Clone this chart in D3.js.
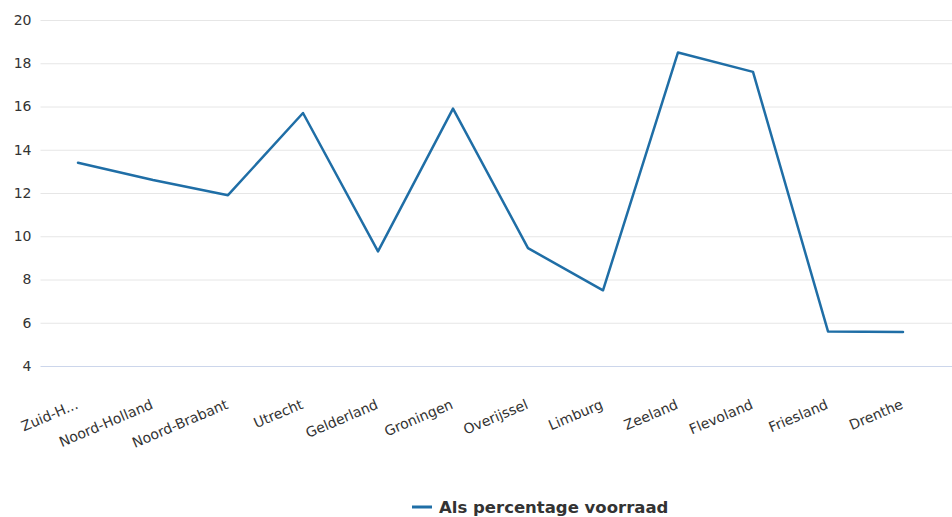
<!DOCTYPE html>
<html><head><meta charset="utf-8">
<script src="https://cdn.jsdelivr.net/npm/d3@7"></script>
<style>html,body{margin:0;padding:0;background:#fff;overflow:hidden}</style>
</head><body>
<svg id="chart" width="952" height="517"></svg>
<script>
const categories = ["Zuid-H...","Noord-Holland","Noord-Brabant","Utrecht","Gelderland","Groningen","Overijssel","Limburg","Zeeland","Flevoland","Friesland","Drenthe"];
const values = [13.4,12.6,11.9,15.7,9.3,15.9,9.45,7.5,18.5,17.6,5.6,5.57];
const yTicks = [4,6,8,10,12,14,16,18,20];
const seriesName = "Als percentage voorraad";

(function () {
const svg = d3.select("#chart");
const font = "DejaVu Sans, Verdana, sans-serif";
const mLeft = 40.5, mRight = 940.5, mTop = 20, mBottom = 366;

const x = d3.scaleBand().domain(categories).range([mLeft, mRight]);
const y = d3.scaleLinear().domain([4, 20]).range([mBottom, mTop]);

// grid
const yAxis = d3.axisLeft(y).tickValues(yTicks).tickSize(-(952 - mLeft)).tickPadding(9);
const gy = svg.append("g").attr("transform", `translate(${mLeft},0)`).call(yAxis);
gy.select(".domain").remove();
gy.selectAll(".tick line").attr("stroke", "#e6e6e6").attr("stroke-width", 1);
gy.selectAll(".tick").filter(d => d === 4).select("line").attr("stroke", "#ccd6eb");
gy.selectAll(".tick text").attr("fill", "#333").style("font-family", font).style("font-size", "14px");

// x axis labels
const xAxis = d3.axisBottom(x).tickSize(0).tickPadding(0);
const gx = svg.append("g").attr("transform", `translate(0,${mBottom})`).call(xAxis);
gx.select(".domain").remove();
gx.selectAll(".tick text")
  .attr("fill", "#333")
  .style("font-family", font).style("font-size", "14px")
  .attr("text-anchor", "end")
  .attr("dy", null).attr("y", null)
  .attr("transform", "translate(1,42) rotate(-23)");

// line
const line = d3.line().x((d, i) => x(categories[i]) + x.bandwidth() / 2).y(d => y(d));
svg.append("path").datum(values).attr("d", line)
  .attr("fill", "none").attr("stroke", "#1f6ea6").attr("stroke-width", 2.5)
  .attr("stroke-linejoin", "round").attr("stroke-linecap", "round");

// legend
const lg = svg.append("g").attr("transform", "translate(412,507)");
lg.append("line").attr("x1", 0).attr("x2", 20).attr("y1", 0).attr("y2", 0)
  .attr("stroke", "#1f6ea6").attr("stroke-width", 3);
lg.append("text").attr("x", 27).attr("y", 6).text(seriesName)
  .attr("fill", "#333").style("font-family", font).style("font-size", "16.5px").style("font-weight", "bold");
})();
</script>
</body></html>
